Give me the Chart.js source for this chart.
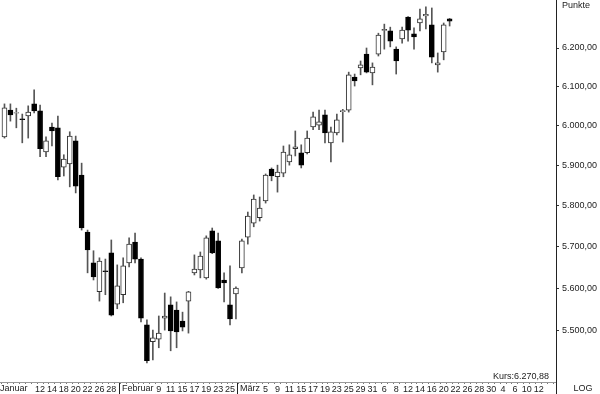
<!DOCTYPE html>
<html>
<head>
<meta charset="utf-8">
<script src="https://cdn.jsdelivr.net/npm/chart.js@4.4.1/dist/chart.umd.min.js"></script>
<style>
  html, body { margin: 0; padding: 0; background: #fff; }
</style>
</head>
<body>
<canvas id="kursChart" width="600" height="394"></canvas>
<script>
// Handelstage (inkl. leerer Tage bis Mitte Mai)
const dates = [
  '04.01','05.01','06.01','07.01','08.01','11.01','12.01','13.01','14.01','15.01',
  '18.01','19.01','20.01','21.01','22.01','25.01','26.01','27.01','28.01','29.01',
  '01.02','02.02','03.02','04.02','05.02','08.02','09.02','10.02','11.02','12.02',
  '15.02','16.02','17.02','18.02','19.02','22.02','23.02','24.02','25.02','26.02',
  '01.03','02.03','03.03','04.03','05.03','08.03','09.03','10.03','11.03','12.03',
  '15.03','16.03','17.03','18.03','19.03','22.03','23.03','24.03','25.03','26.03',
  '29.03','30.03','31.03','01.04','06.04','07.04','08.04','09.04','12.04','13.04',
  '14.04','15.04','16.04','19.04','20.04','21.04','22.04','23.04','26.04','27.04',
  '28.04','29.04','30.04','03.05','04.05','05.05','06.05','07.05','10.05','11.05',
  '12.05','13.05','14.05'
];

const open = [
  5971, 6039, 6031, 6017, 6024, 6055, 6037, 5933, 5996, 5994,
  5895, 5903, 5961, 5875, 5735, 5661, 5592, 5642, 5685, 5563,
  5585, 5661, 5711, 5670, 5514, 5475, 5481, 5530, 5561, 5549,
  5523, 5570, 5637, 5644, 5625, 5738, 5714, 5620, 5561, 5587,
  5649, 5723, 5757, 5770, 5811, 5890, 5871, 5880, 5908, 5941,
  5931, 5931, 5996, 6001, 6027, 5956, 5981, 6035, 6039, 6124,
  6148, 6184, 6135, 6184, 6246, 6245, 6197, 6224, 6282, 6237,
  6266, 6285, 6261, 6156, 6190, 6277
];
const high = [
  6055, 6055, 6044, 6029, 6050, 6091, 6052, 5971, 6006, 6024,
  5926, 5984, 5973, 5905, 5740, 5690, 5673, 5670, 5716, 5656,
  5673, 5721, 5733, 5673, 5526, 5502, 5535, 5589, 5580, 5568,
  5544, 5593, 5680, 5687, 5726, 5745, 5733, 5637, 5654, 5604,
  5718, 5784, 5826, 5821, 5878, 5893, 5900, 5948, 5951, 5986,
  5951, 5986, 6034, 6039, 6039, 5996, 6029, 6041, 6137, 6132,
  6166, 6200, 6161, 6239, 6263, 6255, 6203, 6255, 6283, 6253,
  6303, 6309, 6306, 6187, 6266, 6278
];
const low = [
  5968, 6011, 5994, 5956, 5968, 6032, 5921, 5921, 5948, 5863,
  5873, 5846, 5831, 5740, 5637, 5620, 5570, 5585, 5535, 5552,
  5566, 5651, 5661, 5521, 5426, 5433, 5461, 5502, 5454, 5461,
  5500, 5495, 5632, 5625, 5622, 5683, 5600, 5568, 5514, 5528,
  5637, 5706, 5748, 5762, 5806, 5861, 5833, 5871, 5900, 5923,
  5893, 5928, 5989, 5989, 5956, 5908, 5976, 5958, 6034, 6101,
  6130, 6135, 6104, 6179, 6197, 6203, 6132, 6213, 6218, 6197,
  6245, 6250, 6161, 6137, 6169, 6258
];
const close = [
  6045, 6027, 6033, 6015, 6034, 6037, 5941, 5961, 5986, 5871,
  5915, 5973, 5848, 5745, 5692, 5627, 5665, 5640, 5537, 5606,
  5654, 5706, 5670, 5530, 5431, 5484, 5495, 5535, 5500, 5498,
  5509, 5592, 5646, 5677, 5721, 5685, 5601, 5613, 5528, 5601,
  5714, 5774, 5816, 5794, 5875, 5873, 5883, 5933, 5926, 5946,
  5900, 5968, 6022, 6009, 5981, 5984, 6014, 6038, 6130, 6114,
  6156, 6137, 6150, 6234, 6249, 6218, 6166, 6247, 6247, 6229,
  6277, 6289, 6176, 6161, 6261, 6270.88
];

const yTicks = [5500, 5600, 5700, 5800, 5900, 6000, 6100, 6200];
const dayLabels = [
  '12.01','14.01','18.01','20.01','22.01','26.01','28.01',
  '09.02','11.02','15.02','17.02','19.02','23.02','25.02',
  '05.03','09.03','11.03','15.03','17.03','19.03','23.03','25.03','29.03','31.03',
  '06.04','08.04','12.04','14.04','16.04','20.04','22.04','26.04','28.04','30.04',
  '04.05','06.05','10.05','12.05'
];
const monthNames = ['Januar', 'Februar', 'März'];
const monthStarts = ['04.01', '01.02', '01.03'];

function fmtDe(v) {
  const parts = v.toFixed(2).split('.');
  return parts[0].replace(/\B(?=(\d{3})+(?!\d))/g, '.') + ',' + parts[1];
}

const FONT = 'Arial, "Liberation Sans", sans-serif';
const idx = open.map((_, i) => i);

const extras = {
  id: 'extras',
  afterDraw(chart) {
    const c = chart.ctx;
    const xs = chart.scales.x;
    const area = chart.chartArea;
    c.save();
    c.font = '9px ' + FONT;
    c.fillStyle = '#222';
    c.textBaseline = 'top';
    c.textAlign = 'left';
    c.strokeStyle = '#222';
    c.lineWidth = 1;
    monthStarts.forEach((d, m) => {
      const i = dates.indexOf(d);
      let tx = 0;
      if (i > 0) {
        const sx = Math.floor(xs.getPixelForValue(i - 0.5)) - 0.5;
        c.beginPath();
        c.moveTo(sx, area.bottom + 1);
        c.lineTo(sx, chart.height);
        c.stroke();
        tx = sx + 2.5;
      }
      c.fillText(monthNames[m], tx, area.bottom + 2);
    });
    // Achse nach unten verlängern
    c.beginPath();
    c.moveTo(area.right + 0.5, area.bottom);
    c.lineTo(area.right + 0.5, chart.height);
    c.stroke();
    c.textAlign = 'center';
    c.fillText('LOG', 583, area.bottom + 2);
    c.textAlign = 'left';
    c.textBaseline = 'middle';
    c.fillText('Punkte', 562, 6);
    c.textAlign = 'right';
    c.textBaseline = 'alphabetic';
    c.fillText('Kurs:' + fmtDe(close[close.length - 1]), 549, 379);
    c.restore();
  }
};

new Chart(document.getElementById('kursChart'), {
  type: 'bar',
  data: {
    datasets: [
      {
        label: 'Körper',
        data: idx.map(i => ({ x: i, y: [Math.min(open[i], close[i]), Math.max(open[i], close[i])] })),
        backgroundColor: idx.map(i => close[i] >= open[i] ? '#ffffff' : '#000000'),
        borderColor: idx.map(i => close[i] >= open[i] ? '#333333' : '#000000'),
        borderWidth: 1,
        borderSkipped: false,
        barThickness: 5,
        grouped: false,
        order: 1
      },
      {
        label: 'Docht',
        data: idx.map(i => ({ x: i, y: [low[i], high[i]] })),
        backgroundColor: '#555555',
        borderWidth: 0,
        barThickness: 1,
        grouped: false,
        order: 2
      }
    ]
  },
  options: {
    responsive: false,
    animation: false,
    devicePixelRatio: 1,
    layout: { padding: 0 },
    plugins: { legend: { display: false }, tooltip: { enabled: false } },
    scales: {
      x: {
        type: 'linear',
        position: 'bottom',
        min: -0.25,
        max: 92.42,
        afterBuildTicks: s => { s.ticks = dates.map((d, i) => ({ value: i })); },
        afterFit: s => { s.height = 12; s.paddingLeft = 0; s.paddingRight = 0; },
        grid: { drawOnChartArea: false, drawTicks: true, tickLength: 2, color: '#777' },
        border: { color: '#999' },
        ticks: {
          autoSkip: false,
          maxRotation: 0,
          minRotation: 0,
          padding: 0,
          color: '#222',
          font: { size: 9, family: FONT },
          callback: v => {
            const d = dates[v];
            return dayLabels.includes(d) ? String(parseInt(d, 10)) : '';
          }
        }
      },
      y: {
        type: 'logarithmic',
        position: 'right',
        min: 5382.4,
        max: 6327.3,
        afterBuildTicks: s => { s.ticks = yTicks.map(v => ({ value: v })); },
        afterFit: s => { s.width = 44; s.paddingTop = 0; s.paddingBottom = 0; },
        grid: { drawOnChartArea: false, drawTicks: true, tickLength: 3, color: '#333' },
        border: { color: '#222' },
        ticks: {
          padding: 3,
          color: '#222',
          font: { size: 9, family: FONT },
          callback: v => fmtDe(v)
        }
      }
    }
  },
  plugins: [extras]
});
</script>
</body>
</html>
